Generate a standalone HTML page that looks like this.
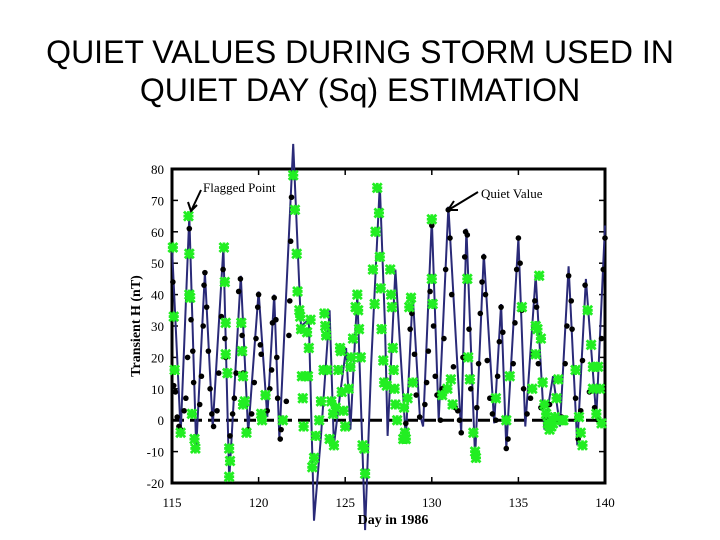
<!DOCTYPE html>
<html><head><meta charset="utf-8"><style>
body{margin:0;background:#fff;width:720px;height:540px;overflow:hidden}
#title{position:absolute;left:0;top:33px;width:720px;text-align:center;font:32px/1.2 "Liberation Sans",sans-serif;color:#000}
svg{position:absolute;left:0;top:0}
</style></head><body>
<div id="title">QUIET VALUES DURING STORM USED IN<br>QUIET DAY (Sq) ESTIMATION</div>
<svg id="c" width="720" height="540"></svg>
<script>
const xTicks=[115,120,125,130,135,140];
const yTicks=[80,70,60,50,40,30,20,10,0,-10,-20];
const lineDays=[115,115.5,116,116.4,116.9,117.35,117.97,118.3,118.97,119.4,120,120.5,120.9,121.2,122,122.45,122.9,123.2,123.6,124.1,124.35,124.7,125.05,125.3,125.7,126.15,126.5,127,127.3,127.45,127.9,128.5,128.9,129.3,129.5,130,130.4,130.96,131.7,132,132.5,133,133.6,134,134.3,135,135.4,136,136.5,137,137.4,137.9,138.4,138.9,139.5,140];
const lineVals=[55,-4,65,-9,47,-2,55,-19,46,-4,41,1,40,-6,88,30,32,-32,-5,35,-8,8,23,-3,40,-35,18,75,30,-5,48,-6,40,2,-2,64,0,68,-4,61,-12,53,-1,37,-9,58,-2,46,-3,14,-2,49,-8,45,1,62];
const dotDays=[115.05,115.1,115.2,115.3,115.4,115.5,115.7,115.8,115.9,116,116.1,116.2,116.25,116.6,116.7,116.8,116.85,116.9,117,117.1,117.2,117.3,117.4,117.6,117.7,117.85,117.95,118.05,118.1,118.35,118.5,118.6,118.7,118.85,118.95,119.05,119.1,119.4,119.6,119.75,119.85,119.95,120,120.1,120.15,120.3,120.5,120.65,120.75,120.8,120.9,121,121.05,121.1,121.25,121.3,121.6,121.75,121.8,121.85,121.9,128.5,128.75,128.85,129,129.1,129.3,129.6,129.7,129.8,129.9,130,130.05,130.1,130.2,130.3,130.5,130.6,130.7,130.8,130.95,131.05,131.15,131.25,131.35,131.5,131.6,131.7,131.8,131.9,131.95,132.05,132.15,132.25,132.6,132.7,132.8,132.9,133,133.1,133.2,133.35,133.5,133.7,133.8,133.9,134,134.1,134.3,134.4,134.7,134.8,134.9,135,135.1,135.2,135.3,135.5,135.7,135.85,135.95,136.05,136.15,136.3,136.6,136.8,137.2,137.5,137.7,137.8,137.9,138.05,138.1,138.3,138.45,138.6,138.7,138.85,138.95,139.1,139.4,139.6,139.8,139.9,140];
const dotVals=[44,11,9,1,-2,-3,3,7,20,61,32,22,12,5,14,30,43,47,36,22,10,2,-2,3,15,33,48,26,20,-5,2,7,15,41,45,27,15,-3,2,12,26,36,40,24,21,8,3,10,16,31,39,32,20,7,-6,-3,6,27,38,57,71,-1,29,34,21,8,1,5,12,22,41,62,37,30,14,8,0,10,26,48,67,58,40,17,4,3,0,-4,20,52,60,59,29,10,4,18,34,44,52,40,19,7,2,0,14,25,36,28,-9,-6,18,31,48,58,50,35,10,2,7,21,38,36,18,4,1,5,0,1,18,30,46,38,29,7,-6,3,19,43,35,9,4,0,26,48,58];
const greenDays=[115.05,115.1,115.15,115.5,115.95,116,116,116.05,116.15,116.3,116.35,118,118.05,118.1,118.1,118.2,118.3,118.35,118.3,119,119.05,119.1,119.1,119.2,119.3,120.15,120.2,120.4,121.4,122,122.1,122.2,122.25,122.35,122.4,122.45,122.5,122.55,122.6,122.8,122.85,122.9,123,123.1,123.2,123.3,123.5,123.6,123.75,123.8,123.85,123.9,123.95,124.1,124.2,124.3,124.35,124.45,124.6,124.7,124.75,124.8,124.9,125,125.2,125.3,125.35,125.45,125.6,125.7,125.75,125.8,125.9,126,126.1,126.15,126.6,126.7,126.75,126.85,126.95,127,127.05,127.1,127.2,127.25,127.4,127.6,127.65,127.7,127.75,127.8,127.85,127.9,128,128.35,128.4,128.45,128.5,128.6,128.7,128.8,128.9,130,130,130.05,130.6,130.9,131.2,131.1,132.05,132.1,132.2,132.4,132.5,132.55,133.7,134.3,134.5,135.2,135.8,136,136,136.1,136.2,136.3,136.4,136.5,136.6,136.7,136.8,136.9,137,137.1,137.3,137.2,137.5,137.6,138.3,138.5,138.6,138.7,139,139.2,139.3,139.3,139.6,139.7,139.5,139.8];
const greenVals=[55,33,16,-4,65,53,40,39,2,-6,-9,55,44,31,21,15,-9,-13,-18,31,22,14,5,6,-4,2,0,8,0,78,67,53,41,35,33,29,14,7,-2,28,14,23,32,-15,-12,-5,0,6,16,34,30,27,16,-6,6,2,-8,4,16,23,22,9,3,-2,10,17,20,26,36,40,35,29,20,-8,-9,-17,48,37,60,74,66,52,42,29,19,12,11,48,40,36,23,16,10,5,0,-6,4,-4,-6,7,36,39,12,64,45,37,8,10,5,13,45,20,13,-4,-10,-12,7,0,14,36,10,30,21,29,46,26,12,5,2,-1,-3,-2,-1,1,13,7,0,0,16,1,-4,-8,35,24,17,10,17,10,2,-1];

const NS='http://www.w3.org/2000/svg';
const svg=document.getElementById('c');
const X0=172,X1=605,Y0=483,Y1=169;
const xs=d=>X0+(d-115)/(140-115)*(X1-X0);
const ys=v=>Y0-(v+20)/100*(Y0-Y1);
function mk(tag,attrs,parent){const e=document.createElementNS(NS,tag);for(const k in attrs)e.setAttribute(k,attrs[k]);(parent||svg).appendChild(e);return e;}

const frame=mk('rect',{x:X0,y:Y1,width:X1-X0,height:Y0-Y1,fill:'none',stroke:'#000','stroke-width':3});



xTicks.forEach(t=>{
  mk('line',{x1:xs(t),x2:xs(t),y1:Y0,y2:Y0-6,stroke:'#000','stroke-width':1.5});
  mk('line',{x1:xs(t),x2:xs(t),y1:Y1,y2:Y1+6,stroke:'#000','stroke-width':1.5});
  const tx=mk('text',{x:xs(t),y:507,'text-anchor':'middle','font-family':'Liberation Serif, serif','font-size':13});
  tx.textContent=t;
  
  
});
yTicks.forEach(t=>{
  mk('line',{x1:X0,x2:X0+6,y1:ys(t),y2:ys(t),stroke:'#000','stroke-width':1.5});
  mk('line',{x1:X1,x2:X1-6,y1:ys(t),y2:ys(t),stroke:'#000','stroke-width':1.5});
  const tx=mk('text',{x:164,y:ys(t)+5,'text-anchor':'end','font-family':'Liberation Serif, serif','font-size':13});
  tx.textContent=t;
  
  
});
const zl=mk('line',{x1:X0,x2:X1,y1:ys(0),y2:ys(0),stroke:'#000','stroke-width':3,'stroke-dasharray':'12,6'});



const pts=lineDays.map((d,i)=>xs(d).toFixed(1)+','+ys(lineVals[i]).toFixed(1)).join(' ');
const pl=mk('polyline',{points:pts,fill:'none',stroke:'#2a2a78','stroke-width':2});



dotDays.forEach((d,i)=>{
  const c=mk('circle',{cx:xs(d),cy:ys(dotVals[i]),r:2.8,fill:'#000'});
  
  
});
greenDays.forEach((d,i)=>{
  const x=xs(d),y=ys(greenVals[i]);
  const g=mk('g',{});
  
  
  mk('path',{d:`M${x-4.5},${y-4.5}L${x+4.5},${y+4.5}M${x+4.5},${y-4.5}L${x-4.5},${y+4.5}M${x-5},${y}L${x+5},${y}M${x},${y-5}L${x},${y+5}`,stroke:'#22ee22','stroke-width':2.8},g);
});

const yt=mk('text',{x:0,y:0,transform:'translate(140,326) rotate(-90)','text-anchor':'middle','font-family':'Liberation Serif, serif','font-size':14,'font-weight':'bold'});
yt.textContent='Transient H (nT)';


const xt=mk('text',{x:393,y:524,'text-anchor':'middle','font-family':'Liberation Serif, serif','font-size':14,'font-weight':'bold'});
xt.textContent='Day in 1986';



const a1=mk('text',{x:203,y:192,'font-family':'Liberation Serif, serif','font-size':13});
a1.textContent='Flagged Point';


mk('path',{d:'M201,190L192,209M188,202L191,211L197,205',stroke:'#000','stroke-width':2,fill:'none'});
const a2=mk('text',{x:481,y:198,'font-family':'Liberation Serif, serif','font-size':13});
a2.textContent='Quiet Value';


mk('path',{d:'M478,192L450,209M454,201L448,210L458,210',stroke:'#000','stroke-width':2,fill:'none'});
</script>
</body></html>
